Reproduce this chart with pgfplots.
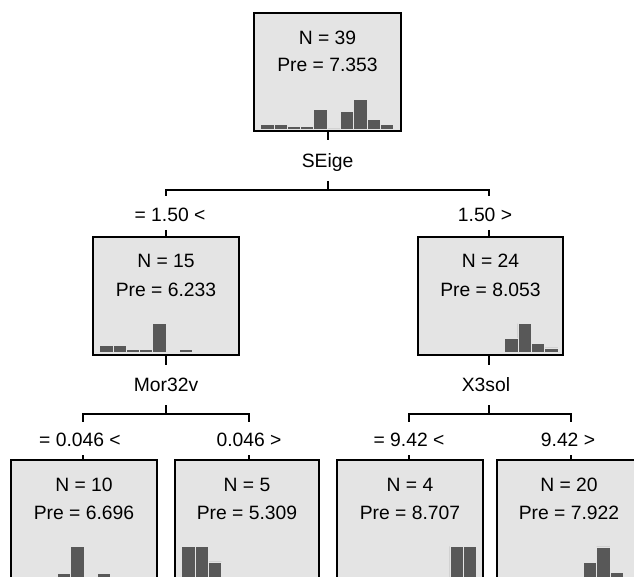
\documentclass[border=0pt]{standalone}
\usepackage{pgfplots}
\pgfplotsset{compat=1.18}
\usepackage{pgfplotstable}
\usepackage{fontspec}
\setmainfont{Liberation Sans}
\definecolor{boxfill}{RGB}{228,228,228}
\definecolor{barfill}{RGB}{88,88,88}
\newcommand\tf{\fontsize{19.3}{23}\selectfont}
% histogram counts (10 bins each)
\pgfplotstableread{
bin root midL midR botA botB botC botD
0 2 2 0 0 2 0 0
1 2 2 0 0 2 0 0
2 1 1 0 0 1 0 0
3 1 1 0 1 0 0 0
4 8 8 0 8 0 0 0
5 0 0 0 0 0 0 0
6 7 1 6 1 0 0 6
7 12 0 12 0 0 0 12
8 4 0 4 0 0 2 2
9 2 0 2 0 0 2 0
10 0 0 0 0 0 0 0
}\hist
\pgfplotsset{
  histax/.style={scale only axis, hide axis, width=133pt, xmin=0, xmax=10, ymin=0, anchor=south west, clip=false},
  histbar/.style={ybar interval, fill=barfill, draw=boxfill, line width=0.6pt},
  node/.style={draw=black, line width=2pt, fill=boxfill},
  link/.style={black, line width=2pt, mark=none},
}
\begin{document}
\begin{tikzpicture}
\clip (0pt,0pt) rectangle (634pt,577pt);
\begin{axis}[at={(0pt,0pt)}, anchor=south west, scale only axis, width=634pt, height=577pt,
  xmin=0, xmax=634, ymin=0, ymax=577, y dir=reverse, hide axis, clip=false]
% boxes
\addplot[node] coordinates {(254,13) (401,13) (401,131.5) (254,131.5)} -- cycle;
\addplot[node] coordinates {(93,237) (239,237) (239,355) (93,355)} -- cycle;
\addplot[node] coordinates {(418,237) (563,237) (563,355) (418,355)} -- cycle;
\addplot[node] coordinates {(11,460) (157,460) (157,579) (11,579)} -- cycle;
\addplot[node] coordinates {(175,460) (319,460) (319,579) (175,579)} -- cycle;
\addplot[node] coordinates {(337,460) (483,460) (483,579) (337,579)} -- cycle;
\addplot[node] coordinates {(497,460) (644,460) (644,579) (497,579)} -- cycle;
% links
\addplot[link] coordinates {(327.5,131.5) (327.5,140)};
\addplot[link] coordinates {(327.5,181) (327.5,190.3)};
\addplot[link] coordinates {(165.7,196) (165.7,190.3) (489,190.3) (489,196)};
\addplot[link] coordinates {(165.7,230) (165.7,237)};
\addplot[link] coordinates {(489,230) (489,237)};
\addplot[link] coordinates {(166,355) (166,365)};
\addplot[link] coordinates {(488.5,355) (488.5,365)};
\addplot[link] coordinates {(166,405) (166,414)};
\addplot[link] coordinates {(83.3,421.5) (83.3,414) (249,414) (249,421.5)};
\addplot[link] coordinates {(488.5,405) (488.5,414)};
\addplot[link] coordinates {(409.3,421.5) (409.3,414) (571,414) (571,421.5)};
\addplot[link] coordinates {(83.3,455) (83.3,460)};
\addplot[link] coordinates {(249,455) (249,460)};
\addplot[link] coordinates {(409.3,455) (409.3,460)};
\addplot[link] coordinates {(571,455) (571,460)};
% texts
\node[font=\tf] at (axis cs:327.5,38) {N = 39};
\node[font=\tf] at (axis cs:327.5,65) {Pre = 7.353};
\node[font=\tf] at (axis cs:166,261) {N = 15};
\node[font=\tf] at (axis cs:166,290) {Pre = 6.233};
\node[font=\tf] at (axis cs:490.5,261) {N = 24};
\node[font=\tf] at (axis cs:490.5,290) {Pre = 8.053};
\node[font=\tf] at (axis cs:84,485) {N = 10};
\node[font=\tf] at (axis cs:84,513) {Pre = 6.696};
\node[font=\tf] at (axis cs:247,485) {N = 5};
\node[font=\tf] at (axis cs:247,513) {Pre = 5.309};
\node[font=\tf] at (axis cs:410,485) {N = 4};
\node[font=\tf] at (axis cs:410,513) {Pre = 8.707};
\node[font=\tf] at (axis cs:569,485) {N = 20};
\node[font=\tf] at (axis cs:569,513) {Pre = 7.922};
\node[font=\tf] at (axis cs:327.5,163) {SEige};
\node[font=\tf] at (axis cs:166,385) {Mor32v};
\node[font=\tf] at (axis cs:486,385) {X3sol};
\node[font=\tf] at (axis cs:170,215) {= 1.50 <};
\node[font=\tf] at (axis cs:485,215) {1.50 >};
\node[font=\tf] at (axis cs:80,440) {= 0.046 <};
\node[font=\tf] at (axis cs:249,440) {0.046 >};
\node[font=\tf] at (axis cs:409,440) {= 9.42 <};
\node[font=\tf] at (axis cs:568,440) {9.42 >};
\end{axis}
% histograms
\begin{axis}[histax, at={(260.5pt,448pt)}, height=29.7pt, ymax=12]
\addplot[histbar] table[x=bin, y=root] {\hist};
\end{axis}
\begin{axis}[histax, at={(99.5pt,224.3pt)}, height=29pt, ymax=8]
\addplot[histbar] table[x=bin, y=midL] {\hist};
\end{axis}
\begin{axis}[histax, at={(424.8pt,224.3pt)}, height=29pt, ymax=12]
\addplot[histbar] table[x=bin, y=midR] {\hist};
\end{axis}
\begin{axis}[histax, at={(17.5pt,-0.5pt)}, height=31pt, ymax=8]
\addplot[histbar] table[x=bin, y=botA] {\hist};
\end{axis}
\begin{axis}[histax, at={(181.5pt,-0.5pt)}, height=31pt, ymax=2]
\addplot[histbar] table[x=bin, y=botB] {\hist};
\end{axis}
\begin{axis}[histax, at={(343.5pt,-0.5pt)}, height=31pt, ymax=2]
\addplot[histbar] table[x=bin, y=botC] {\hist};
\end{axis}
\begin{axis}[histax, at={(503.5pt,-0.5pt)}, height=30.5pt, ymax=12]
\addplot[histbar] table[x=bin, y=botD] {\hist};
\end{axis}
\end{tikzpicture}
\end{document}
